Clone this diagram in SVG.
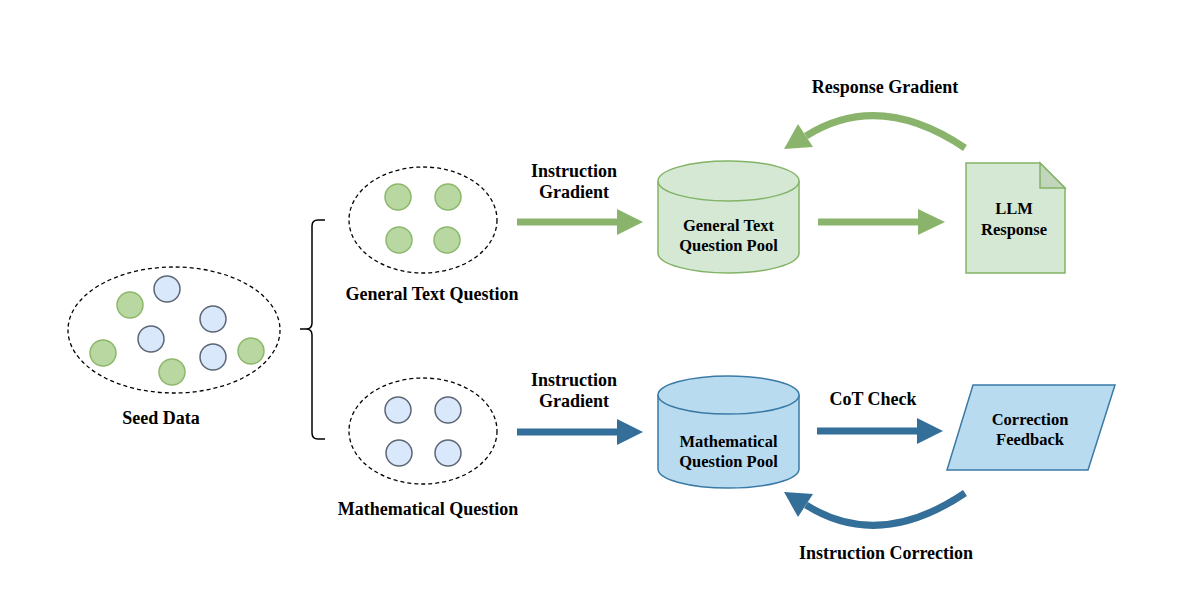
<svg xmlns="http://www.w3.org/2000/svg" width="1200" height="600" viewBox="0 0 1200 600">
<style>
.lbl{font-family:"Liberation Serif","Times New Roman",serif;font-weight:bold;font-size:18px;fill:#000;text-anchor:middle}
.ntx{font-family:"Liberation Serif","Times New Roman",serif;font-weight:bold;font-size:16.5px;fill:#000;text-anchor:middle}
.grp{fill:none;stroke:#000;stroke-width:1.3;stroke-dasharray:4 3}
.gc{fill:#b9d7a0;stroke:#8cb86c;stroke-width:1.5}
.bc{fill:#dae8fc;stroke:#5d6675;stroke-width:1.5}
.gnode{fill:#d5e8d4;stroke:#82b366;stroke-width:1.5}
.bnode{fill:#b9dbef;stroke:#3a7aa6;stroke-width:1.5}
.garr{stroke:#8ab46c;fill:none;stroke-width:7}
.barr{stroke:#336f98;fill:none;stroke-width:7}
.ghead{fill:#8ab46c}
.bhead{fill:#336f98}
</style>
<rect width="1200" height="600" fill="#fff"/>

<g id="seed-data">
<ellipse class="grp" cx="174" cy="330" rx="106" ry="63"/>
<circle class="gc" cx="130" cy="305" r="13"/>
<circle class="bc" cx="167" cy="289" r="13"/>
<circle class="bc" cx="213" cy="319" r="13"/>
<circle class="bc" cx="151" cy="339" r="13"/>
<circle class="gc" cx="103" cy="353" r="13"/>
<circle class="gc" cx="172" cy="372" r="13"/>
<circle class="bc" cx="213" cy="357" r="13"/>
<circle class="gc" cx="251" cy="351" r="13"/>
<text class="lbl" x="161" y="424">Seed Data</text>
</g>

<g id="brace">
<path d="M325,220 H318 Q312,220 312,226 V323 Q312,329 306,329 H300 H306 Q312,329 312,335 V433 Q312,439 318,439 H325" fill="none" stroke="#000" stroke-width="1.5"/>
</g>

<g id="general-text-question">
<ellipse class="grp" cx="423" cy="220" rx="74" ry="53"/>
<circle class="gc" cx="398" cy="197" r="13"/>
<circle class="gc" cx="448" cy="197" r="13"/>
<circle class="gc" cx="399" cy="240" r="13"/>
<circle class="gc" cx="447" cy="240" r="13"/>
<text class="lbl" x="432" y="300">General Text Question</text>
</g>

<g id="mathematical-question">
<ellipse class="grp" cx="423" cy="431" rx="74" ry="53"/>
<circle class="bc" cx="398" cy="410" r="13"/>
<circle class="bc" cx="448" cy="410" r="13"/>
<circle class="bc" cx="399" cy="453" r="13"/>
<circle class="bc" cx="448" cy="453" r="13"/>
<text class="lbl" x="428" y="515">Mathematical Question</text>
</g>

<g id="general-text-question-pool">
<path class="gnode" d="M658,181 A70.5,20 0 0 1 799,181 V253 A70.5,20 0 0 1 658,253 Z"/>
<path class="gnode" d="M658,181 A70.5,20 0 0 0 799,181" fill="none"/>
<text class="ntx" x="728.5" y="230.5">General Text</text>
<text class="ntx" x="728.5" y="250.5">Question Pool</text>
</g>

<g id="llm-response">
<path class="gnode" d="M966,163 H1040 L1065,188 V273 H966 Z"/>
<path d="M1040,163 V188 H1065 Z" fill="#c2d6bd" stroke="#82b366" stroke-width="1.5"/>
<text class="ntx" x="1014" y="213.5">LLM</text>
<text class="ntx" x="1014" y="234.5">Response</text>
</g>

<g id="mathematical-question-pool">
<path class="bnode" d="M658,395 A70.5,19 0 0 1 799,395 V469 A70.5,19 0 0 1 658,469 Z"/>
<path class="bnode" d="M658,395 A70.5,19 0 0 0 799,395" fill="none"/>
<text class="ntx" x="728.5" y="446.5">Mathematical</text>
<text class="ntx" x="728.5" y="466.5">Question Pool</text>
</g>

<g id="correction-feedback">
<path class="bnode" d="M973,385 H1115 L1088,470 H947 Z"/>
<text class="ntx" x="1030" y="424.5">Correction</text>
<text class="ntx" x="1030" y="444.5">Feedback</text>
</g>

<g id="connectors">
<path class="garr" d="M517,222 H619"/>
<polygon class="ghead" points="617,209 643,222 617,235"/>
<text class="lbl" x="574" y="177">Instruction</text>
<text class="lbl" x="574" y="198">Gradient</text>

<path class="garr" d="M818,222 H920"/>
<polygon class="ghead" points="918,209 945,222 918,235"/>

<path class="garr" d="M965,148 Q879,90 806,136"/>
<polygon class="ghead" points="784,149 798,124 813,147"/>
<text class="lbl" x="885" y="93">Response Gradient</text>

<path class="barr" d="M517,432 H619"/>
<polygon class="bhead" points="617,419 643,432 617,445"/>
<text class="lbl" x="574" y="386">Instruction</text>
<text class="lbl" x="574" y="407">Gradient</text>

<path class="barr" d="M817,431 H919"/>
<polygon class="bhead" points="917,418 943,431 917,444"/>
<text class="lbl" x="873" y="405">CoT Check</text>

<path class="barr" d="M965,493 Q879,551 806,505"/>
<polygon class="bhead" points="784,492 798,517 813,494"/>
<text class="lbl" x="886" y="559">Instruction Correction</text>
</g>
</svg>
